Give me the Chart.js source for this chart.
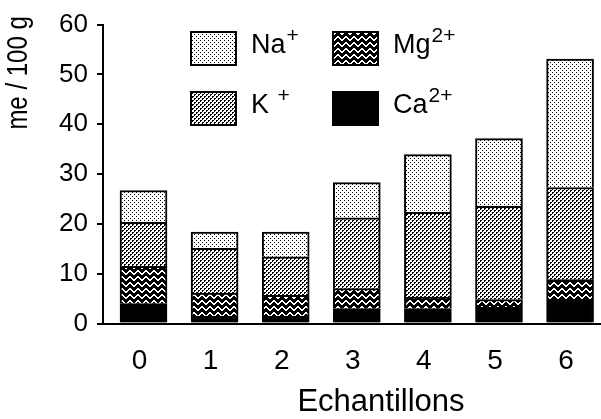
<!DOCTYPE html>
<html>
<head>
<meta charset="utf-8">
<script src="https://cdn.jsdelivr.net/npm/chart.js@4/dist/chart.umd.min.js"></script>
<style>
  html, body { margin: 0; padding: 0; background: #fff; }
  #box { width: 601px; height: 419px; position: relative; }
</style>
</head>
<body>
<div id="box"><canvas id="c"></canvas></div>
<script>
// Exchangeable cations per sample (me / 100 g), stacked bottom to top
const categories = ['0', '1', '2', '3', '4', '5', '6'];
const ca = [4.0, 1.5, 1.5, 3.0, 3.0, 3.3, 4.7];
const mg = [7.5, 4.6, 4.15, 4.0, 2.3, 1.5, 4.1];
const k  = [8.8, 9.0, 7.75, 14.2, 17.0, 18.7, 18.5];
const na = [6.4, 3.25, 4.95, 7.1, 11.6, 13.6, 25.8];
const yTicks = [0, 10, 20, 30, 40, 50, 60];
const ionNames = ['Ca', 'Mg', 'K ', 'Na'];
const ionCharges = ['2+', '2+', '+', '+'];
const xTitle = 'Echantillons';
const yTitle = 'me / 100 g';

const FONT = '"Liberation Sans", Arial, Helvetica, sans-serif';
const canvas = document.getElementById('c');
const ctx = canvas.getContext('2d');

// Screen-tone fills built from tiny pixel tiles
function tile(w, h, bg, fg, pixels) {
  const t = document.createElement('canvas');
  t.width = w; t.height = h;
  const g = t.getContext('2d');
  g.fillStyle = bg; g.fillRect(0, 0, w, h);
  g.fillStyle = fg;
  pixels.forEach(([x, y]) => g.fillRect(x, y, 1, 1));
  return ctx.createPattern(t, 'repeat');
}
const naFill = tile(4, 4, '#fff', '#000', [[0, 0], [2, 2]]);
const kFill = tile(4, 4, '#fff', '#000', [[0, 0], [1, 0], [0, 1], [2, 2], [3, 2], [2, 3]]);
const wave = [1, 0, 0, 1, 2, 3, 3, 2];
const mgPix = [];
wave.forEach((y, x) => { mgPix.push([x, y]); mgPix.push([x, y + 1]); });
const mgFill = tile(8, 6, '#000', '#fff', mgPix);
const caFill = '#000';

const series = [ca, mg, k, na];
const fills = [caFill, mgFill, kFill, naFill];

const datasets = series.map((vals, s) => ({
  label: ionNames[s].trim() + ionCharges[s],
  data: categories.map((c, i) => ({ x: Number(c), y: vals[i] })),
  backgroundColor: fills[s],
  borderColor: '#000',
  borderWidth: 2,
  barThickness: 47
}));

// Two-column key with superscript charges
const legendSlots = [
  { ion: 3, x: 190, y: 31 },
  { ion: 1, x: 332, y: 31 },
  { ion: 2, x: 190, y: 91 },
  { ion: 0, x: 332, y: 91 }
];
const keyPlugin = {
  id: 'key',
  afterDraw(chart) {
    const g = chart.ctx;
    g.save();
    legendSlots.forEach(slot => {
      const ds = chart.data.datasets[slot.ion];
      g.fillStyle = ds.backgroundColor;
      g.fillRect(slot.x, slot.y, 47, 35);
      g.lineWidth = 2;
      g.strokeStyle = '#000';
      g.strokeRect(slot.x + 1, slot.y + 1, 45, 33);
      g.fillStyle = '#000';
      g.textBaseline = 'alphabetic';
      g.textAlign = 'left';
      g.font = '27px ' + FONT;
      const tx = slot.x + 61, by = slot.y + 22;
      const name = ionNames[slot.ion];
      g.fillText(name, tx, by);
      const w = g.measureText(name).width;
      g.font = '21px ' + FONT;
      g.fillText(ionCharges[slot.ion], tx + w + 1, by - 11);
    });
    g.restore();
  }
};

// Axis titles
const titlePlugin = {
  id: 'axisTitles',
  afterDraw(chart) {
    const g = chart.ctx;
    const xs = chart.scales.x, ys = chart.scales.y;
    g.save();
    g.fillStyle = '#000';
    g.font = '31px ' + FONT;
    g.textAlign = 'center';
    g.textBaseline = 'alphabetic';
    g.fillText(xTitle, xs.getPixelForValue(3.34), 411);
    g.translate(19, ys.getPixelForValue(50.3));
    g.rotate(-Math.PI / 2);
    g.scale(1, 1.2);
    g.font = '24px ' + FONT;
    g.textBaseline = 'middle';
    g.fillText(yTitle, 0, 0);
    g.restore();
  }
};

new Chart(canvas, {
  type: 'bar',
  data: { datasets },
  plugins: [keyPlugin, titlePlugin],
  options: {
    responsive: true,
    maintainAspectRatio: false,
    animation: false,
    layout: { padding: { top: 21, right: 0, bottom: 0, left: 0 } },
    plugins: { legend: { display: false }, tooltip: { enabled: false } },
    scales: {
      x: {
        type: 'linear',
        stacked: true,
        offset: false,
        min: -0.57,
        max: 6.435,
        afterFit: s => { s.height = 95.5; },
        afterBuildTicks: s => { s.ticks = categories.map(c => ({ value: Number(c) })); },
        grid: { display: false, offset: false },
        border: { display: true, color: '#000', width: 2 },
        ticks: {
          callback: v => categories[v],
          color: '#000',
          padding: 16,
          labelOffset: -4,
          maxRotation: 0,
          font: { family: FONT, size: 28, lineHeight: 1 }
        }
      },
      y: {
        stacked: true,
        min: 0,
        max: 60,
        afterFit: s => { s.width = 103; },
        afterBuildTicks: s => { s.ticks = yTicks.map(v => ({ value: v })); },
        grid: { drawOnChartArea: false, drawTicks: true, tickLength: 6, color: '#000', lineWidth: 2 },
        border: { display: true, color: '#000', width: 2 },
        ticks: {
          color: '#000',
          padding: 9,
          font: { family: FONT, size: 26, lineHeight: 1.2 }
        }
      }
    }
  }
});
</script>
</body>
</html>
